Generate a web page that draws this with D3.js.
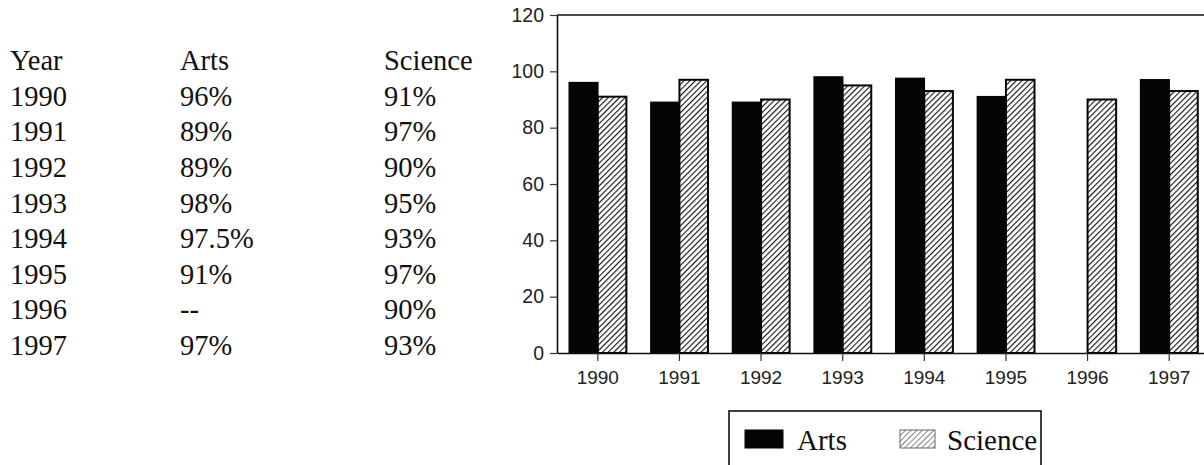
<!DOCTYPE html>
<html>
<head>
<meta charset="utf-8">
<script src="https://cdn.jsdelivr.net/npm/d3@7/dist/d3.min.js"></script>
<style>
  html, body { margin: 0; padding: 0; background: #fff; }
  svg { display: block; }
</style>
</head>
<body>
<svg id="chart" width="1204" height="465"></svg>
<script>
// Graduation rates by year
const years = ["1990", "1991", "1992", "1993", "1994", "1995", "1996", "1997"];
const artsValues = [96, 89, 89, 98, 97.5, 91, null, 97];
const scienceValues = [91, 97, 90, 95, 93, 97, 90, 93];
const artsLabels = ["96%", "89%", "89%", "98%", "97.5%", "91%", "--", "97%"];
const scienceLabels = ["91%", "97%", "90%", "95%", "93%", "97%", "90%", "93%"];
const tableHeaders = ["Year", "Arts", "Science"];
const seriesNames = ["Arts", "Science"];
const yTicks = [0, 20, 40, 60, 80, 100, 120];

const svg = d3.select("#chart");

// Hatch fills for the Science bars and its legend swatch
const defs = svg.append("defs");
defs.append("pattern")
  .attr("id", "hatch")
  .attr("patternUnits", "userSpaceOnUse")
  .attr("width", 4).attr("height", 4)
  .attr("patternTransform", "rotate(45)")
  .call(p => {
    p.append("rect").attr("width", 4).attr("height", 4).attr("fill", "#fff");
    p.append("line").attr("x1", 0).attr("y1", 0).attr("x2", 0).attr("y2", 4)
      .attr("stroke", "#111").attr("stroke-width", 2.2);
  });
defs.append("pattern")
  .attr("id", "hatchLight")
  .attr("patternUnits", "userSpaceOnUse")
  .attr("width", 4).attr("height", 4)
  .attr("patternTransform", "rotate(45)")
  .call(p => {
    p.append("rect").attr("width", 4).attr("height", 4).attr("fill", "#fff");
    p.append("line").attr("x1", 0).attr("y1", 0).attr("x2", 0).attr("y2", 4)
      .attr("stroke", "#444").attr("stroke-width", 1.3);
  });

// ---- Data table on the left ----
const table = svg.append("g")
  .attr("font-family", "'Liberation Serif', 'Times New Roman', serif")
  .attr("font-size", 28.5)
  .attr("fill", "#111");
const colX = [10, 180, 384];
const rowY = d3.scalePoint().domain(d3.range(years.length + 1)).range([70, 355]);

table.selectAll("text.head").data(tableHeaders).join("text")
  .attr("class", "head")
  .attr("x", (d, i) => colX[i]).attr("y", rowY(0))
  .text(d => d);

const rows = years.map((y, i) => [y, artsLabels[i], scienceLabels[i]]);
rows.forEach((row, r) => {
  table.selectAll(null).data(row).join("text")
    .attr("x", (d, i) => colX[i]).attr("y", rowY(r + 1))
    .text(d => d);
});

// ---- Bar chart ----
const plot = { left: 557, right: 1210, top: 15, bottom: 353 };
const x = d3.scaleBand().domain(years).range([plot.left, plot.right])
  .paddingInner(0.3).paddingOuter(0.15);
const xSub = d3.scaleBand().domain(seriesNames).range([0, x.bandwidth()]);
const y = d3.scaleLinear().domain([0, 120]).range([plot.bottom, plot.top]);

const axisFont = "'Liberation Sans', Arial, sans-serif";

// frame top line
svg.append("line")
  .attr("x1", plot.left).attr("x2", 1204)
  .attr("y1", y(120)).attr("y2", y(120))
  .attr("stroke", "#111").attr("stroke-width", 1.6);

// bars
const groups = svg.append("g").selectAll("g").data(years).join("g")
  .attr("transform", d => `translate(${x(d)},0)`);

groups.each(function (yr, i) {
  const g = d3.select(this);
  if (artsValues[i] != null) {
    g.append("rect")
      .attr("x", xSub("Arts")).attr("width", xSub.bandwidth())
      .attr("y", y(artsValues[i])).attr("height", y(0) - y(artsValues[i]))
      .attr("fill", "#050505").attr("stroke", "#050505").attr("stroke-width", 1.5);
  }
  g.append("rect")
    .attr("x", xSub("Science")).attr("width", xSub.bandwidth())
    .attr("y", y(scienceValues[i])).attr("height", y(0) - y(scienceValues[i]))
    .attr("fill", "url(#hatch)").attr("stroke", "#050505").attr("stroke-width", 2);
});

// y axis
const yAxis = d3.axisLeft(y).tickValues(yTicks).tickSize(7).tickPadding(6).tickSizeOuter(0);
svg.append("g")
  .attr("transform", `translate(${plot.left},0)`)
  .call(yAxis)
  .call(g => g.select(".domain").attr("stroke", "#111").attr("stroke-width", 1.6))
  .call(g => g.selectAll(".tick line").attr("stroke", "#333").attr("stroke-width", 1.2))
  .call(g => g.selectAll(".tick text").attr("font-family", axisFont)
    .attr("font-size", 19.5).attr("fill", "#222"));

// x axis
const xAxis = d3.axisBottom(x).tickSize(8).tickPadding(10).tickSizeOuter(0);
svg.append("g")
  .attr("transform", `translate(0,${plot.bottom})`)
  .call(xAxis)
  .call(g => g.select(".domain").attr("stroke", "#111").attr("stroke-width", 1.6))
  .call(g => g.selectAll(".tick line").attr("stroke", "#333").attr("stroke-width", 1.2))
  .call(g => g.selectAll(".tick text").attr("font-family", axisFont)
    .attr("font-size", 19).attr("fill", "#222"));

// ---- Legend ----
const legend = svg.append("g");
legend.append("rect")
  .attr("x", 729).attr("y", 411).attr("width", 312).attr("height", 70)
  .attr("fill", "none").attr("stroke", "#111").attr("stroke-width", 1.6);
const legendItems = [
  { name: seriesNames[0], sx: 745, sw: 38, fill: "#050505", tx: 797 },
  { name: seriesNames[1], sx: 900, sw: 35, fill: "url(#hatchLight)", tx: 947 }
];
legend.selectAll("rect.sw").data(legendItems).join("rect")
  .attr("class", "sw")
  .attr("x", d => d.sx).attr("y", 430).attr("width", d => d.sw).attr("height", 18)
  .attr("fill", d => d.fill)
  .attr("stroke", d => d.name === "Arts" ? "#050505" : "#666").attr("stroke-width", 1);
legend.selectAll("text").data(legendItems).join("text")
  .attr("x", d => d.tx).attr("y", 450)
  .attr("font-family", "'Liberation Serif', 'Times New Roman', serif")
  .attr("font-size", 29).attr("fill", "#111")
  .text(d => d.name);
</script>
</body>
</html>
